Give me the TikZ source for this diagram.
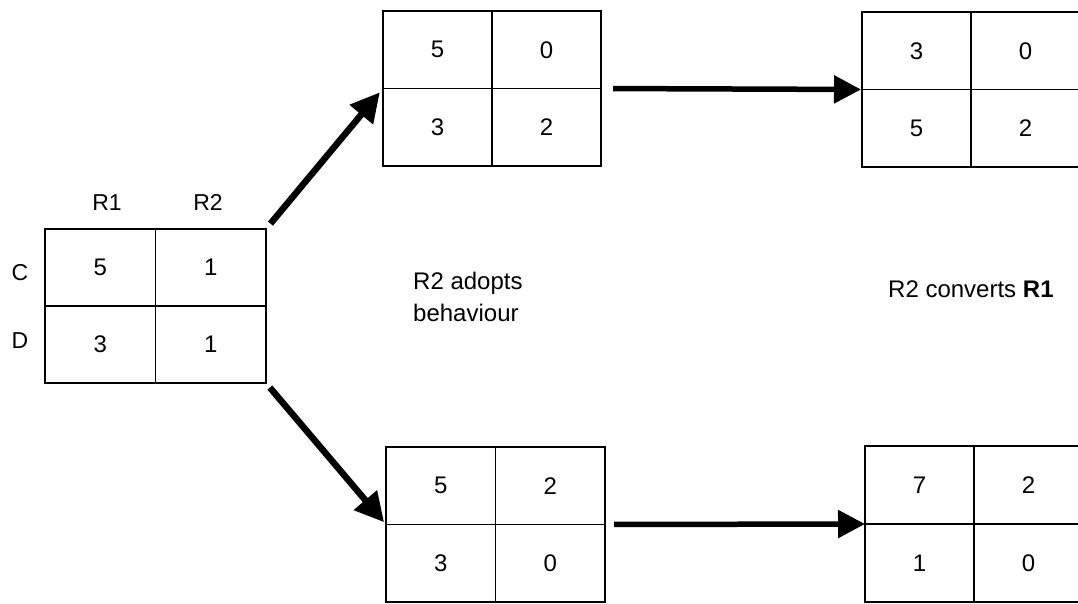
\documentclass[tikz,border=0pt]{standalone}
\usepackage{fontspec}
\setmainfont{Liberation Sans}
\usetikzlibrary{arrows.meta,calc}

\tikzset{
  gridbox/.style={draw, line width=1.5pt, inner sep=0pt, outer sep=0pt},
  gridline/.style={line width=1.5pt},
  num/.style={inner sep=0pt, font=\fontsize{24}{28}\selectfont},
  lbl/.style={inner sep=0pt, font=\fontsize{23}{27}\selectfont},
  caption/.style={inner sep=0pt, font=\fontsize{24}{32}\selectfont},
  bigarrow/.style={line width=5.5pt,
    -{Triangle[length=27pt, width=27pt]}},
  diagarrow/.style={line width=6.5pt,
    -{Triangle[length=29pt, width=29pt]}},
}

% payoff table: name, centre x, centre y, width, height, four entries
\newcommand\paygrid[9]{%
  \node[gridbox, minimum width=#4pt, minimum height=#5pt] (#1) at (#2,#3) {};
  \draw[gridline] (#1.north) -- (#1.south) (#1.west) -- (#1.east);
  \node[num] (#1-a) at ($(#1.north west)!0.5!(#1.center)$) {#6};
  \node[num] (#1-b) at ($(#1.north east)!0.5!(#1.center)$) {#7};
  \node[num] (#1-c) at ($(#1.south west)!0.5!(#1.center)$) {#8};
  \node[num] (#1-d) at ($(#1.south east)!0.5!(#1.center)$) {#9};
}

\begin{document}
\begin{tikzpicture}[x=1pt, y=-1pt]
  \useasboundingbox (0,0) rectangle (1078,604);
  \clip (0,0) rectangle (1078,604);

  % initial game
  \paygrid{L}{155.5}{306}{221}{154}{5}{1}{3}{1}
  \node[lbl, anchor=base] (r1) at (107,210) {R1};
  \node[lbl, anchor=base] (r2) at (208,210) {R2};
  \node[lbl, anchor=base] (c) at (20,280) {C};
  \node[lbl, anchor=base] (d) at (20,348) {D};

  % upper branch
  \paygrid{TM}{492}{88.5}{218}{155}{5}{0}{3}{2}
  \paygrid{TR}{971}{89.5}{218}{155}{3}{0}{5}{2}

  % lower branch
  \paygrid{BM}{495.5}{524.5}{219}{155}{5}{2}{3}{0}
  \paygrid{BR}{974}{524}{218}{156}{7}{2}{1}{0}

  % transitions
  \draw[diagarrow, shorten <=7pt, shorten >=5pt] (L.north east) -- (TM.west);
  \draw[diagarrow, shorten <=6pt, shorten >=3pt] (L.south east) -- (BM.west);
  \draw[bigarrow, shorten <=12pt, shorten >=1pt] (TM.east) -- (TR.west);
  \draw[bigarrow, shorten <=9pt, shorten >=0pt] (BM.east) -- (BR.west);

  % captions
  \node[caption, anchor=north west, align=left] (adopt) at (413,272)
    {R2 adopts\\behaviour};
  \node[caption, anchor=base west] (convert) at (888,297)
    {R2 converts \textbf{R1}};
\end{tikzpicture}
\end{document}
